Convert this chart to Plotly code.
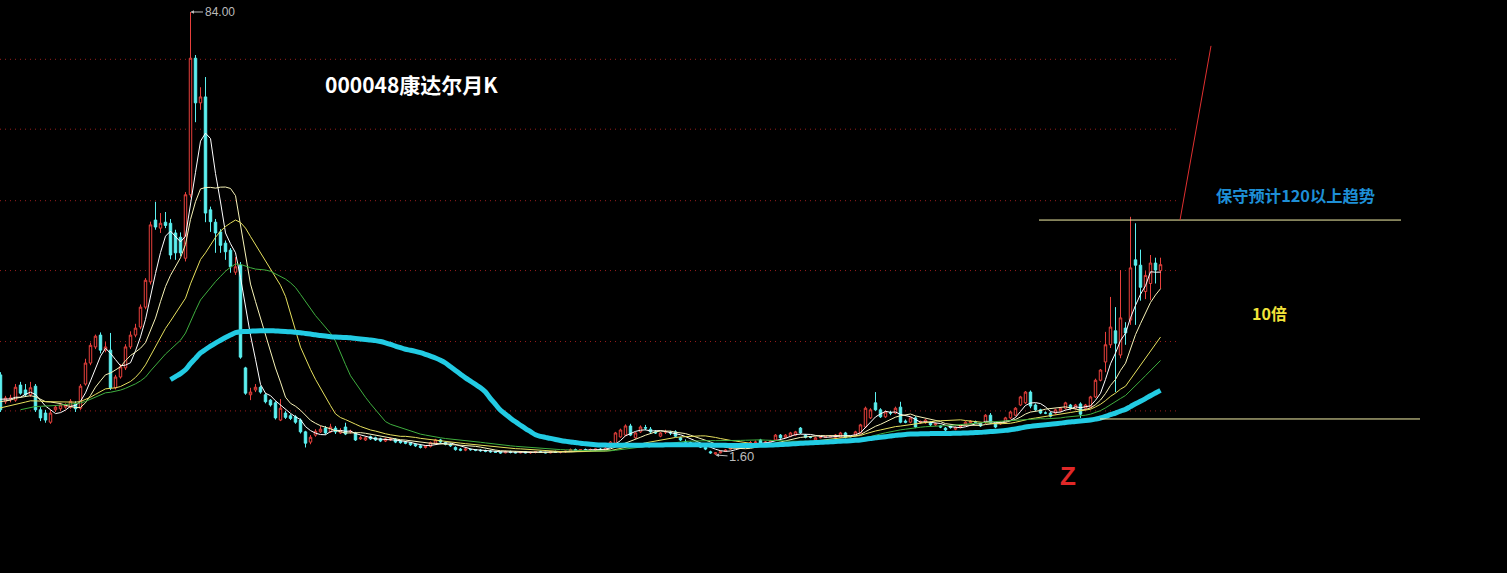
import plotly.graph_objects as go
import pandas as pd

# ---------------- data (monthly K, price units) ----------------
# earlier months (left of the visible window) - only used to warm up the moving averages
hidden_close = [6.0, 6.3, 6.8, 7.2, 7.5, 7.9, 8.3, 8.0, 8.6, 9.1, 8.8, 9.4, 9.9, 9.6, 10.2,
                10.0, 10.6, 11.0, 10.7, 11.3, 11.8, 12.2, 12.0, 12.6, 13.1]

open_ = [16.5, 11.5, 12.0, 11.8, 14.6, 13.7, 12.8, 14.4, 10.0, 9.4, 7.7, 10.0, 10.2, 10.5, 10.5, 11.1,
         10.3, 14.8, 18.7, 21.7, 23.9, 21.1, 21.1, 14.1, 16.1, 17.8, 21.7, 23.9, 25.4, 29.1, 33.8, 45.3,
         43.8, 44.9, 44.7, 42.9, 42.1, 38.2, 50.0, 75.4, 67.1, 68.2, 47.2, 44.9, 43.1, 41.0, 39.7, 35.6,
         36.9, 17.8, 12.8, 13.7, 14.2, 12.8, 11.8, 11.3, 8.1, 9.4, 8.9, 8.7, 8.1, 5.9, 4.0, 5.3,
         5.9, 6.6, 5.9, 6.6, 5.7, 6.8, 5.9, 5.7, 4.6, 4.4, 5.0, 4.8, 4.6, 4.2, 4.4, 4.5,
         4.2, 4.0, 3.9, 3.6, 3.3, 3.0, 3.2, 3.8, 4.4, 3.9, 3.6, 3.0, 2.7, 2.5, 2.6, 2.6,
         2.5, 2.4, 2.3, 2.2, 2.2, 2.0, 2.2, 2.1, 2.0, 2.2, 2.0, 2.1, 2.2, 2.1, 2.0, 2.2,
         2.1, 2.2, 2.3, 2.6, 2.5, 2.6, 2.6, 2.6, 2.7, 2.5, 3.1, 3.8, 4.95, 5.3, 7.0, 4.8,
         5.9, 6.7, 6.4, 5.9, 5.1, 5.9, 5.7, 5.9, 4.8, 4.1, 3.9, 3.7, 3.3, 3.0, 2.2, 1.8,
         2.0, 2.3, 2.7, 3.0, 3.2, 3.4, 3.7, 3.9, 4.4, 3.8, 4.0, 4.4, 5.3, 4.9, 5.1, 5.3,
         6.6, 5.3, 4.9, 4.4, 4.8, 4.9, 5.0, 4.9, 4.9, 5.7, 5.1, 5.3, 5.7, 6.8, 8.5, 11.3,
         10.0, 8.7, 9.4, 9.4, 10.5, 7.9, 7.7, 8.5, 7.6, 7.6, 7.7, 7.2, 7.0, 6.6, 6.9, 6.4,
         6.8, 7.2, 7.6, 7.8, 7.4, 7.6, 9.0, 7.4, 7.4, 7.7, 8.5, 9.0, 10.9, 11.3, 13.3, 10.9,
         10.0, 9.4, 9.4, 9.4, 9.8, 10.3, 10.9, 10.3, 11.1, 10.3, 10.5, 12.4, 15.5, 18.9, 22.1, 24.7,
         20.2, 25.2, 26.7, 37.9, 36.9, 32.0, 33.5, 37.3, 35.9]
high = [17.0, 12.6, 12.8, 14.8, 15.2, 14.8, 15.2, 14.8, 10.5, 10.0, 10.0, 10.9, 11.3, 11.2, 12.0, 11.6,
        14.8, 19.5, 22.5, 24.0, 24.4, 22.6, 24.3, 16.5, 18.5, 22.2, 24.6, 26.0, 29.6, 34.5, 45.0, 48.7,
        46.6, 46.8, 45.5, 43.5, 43.0, 50.5, 84.0, 76.0, 70.0, 71.9, 47.8, 45.5, 43.6, 41.5, 40.1, 38.4,
        37.5, 18.0, 14.1, 14.8, 14.5, 13.1, 12.0, 11.6, 12.0, 9.8, 9.2, 9.0, 8.4, 6.1, 5.3, 6.4,
        7.0, 7.0, 7.4, 7.0, 6.6, 7.6, 6.3, 5.9, 5.1, 5.0, 5.2, 5.0, 4.8, 4.8, 4.8, 4.7,
        4.4, 4.2, 4.0, 3.8, 3.5, 3.4, 4.1, 4.6, 4.6, 4.1, 3.8, 3.2, 2.9, 2.9, 2.8, 2.7,
        2.7, 2.6, 2.5, 2.4, 2.3, 2.4, 2.4, 2.3, 2.3, 2.3, 2.2, 2.3, 2.4, 2.2, 2.3, 2.4,
        2.3, 2.4, 2.8, 2.8, 2.7, 2.8, 2.8, 2.8, 2.9, 3.1, 4.2, 5.9, 6.5, 7.3, 7.4, 5.9,
        7.1, 7.2, 6.8, 6.2, 5.9, 6.3, 6.1, 6.2, 5.0, 4.5, 4.1, 3.9, 3.5, 3.2, 2.4, 2.1,
        2.4, 2.7, 3.2, 3.4, 3.6, 3.8, 4.2, 4.3, 4.6, 4.2, 4.4, 5.5, 5.5, 5.5, 5.9, 6.1,
        6.8, 5.5, 5.1, 5.0, 5.1, 5.2, 5.3, 5.5, 5.9, 5.9, 5.2, 6.1, 7.4, 10.6, 10.3, 13.3,
        10.3, 9.9, 9.8, 10.6, 11.5, 8.2, 8.7, 8.8, 8.0, 8.3, 7.9, 7.6, 7.2, 6.8, 7.1, 6.9,
        7.1, 7.9, 8.1, 8.0, 7.6, 9.2, 9.4, 7.6, 7.9, 8.7, 9.8, 10.5, 12.6, 13.5, 13.6, 11.2,
        10.2, 9.7, 9.6, 10.2, 10.5, 11.5, 11.1, 11.1, 11.4, 11.1, 12.6, 15.8, 17.6, 24.5, 31.0, 29.1,
        36.0, 26.3, 45.9, 44.7, 39.8, 35.8, 38.8, 38.3, 38.3]
low = [9.6, 11.1, 11.4, 11.5, 12.8, 12.4, 12.4, 9.6, 7.9, 7.6, 7.4, 9.6, 9.8, 10.2, 10.2, 9.6,
       10.0, 14.5, 18.3, 21.3, 20.5, 20.7, 13.7, 13.8, 15.8, 17.4, 21.3, 23.5, 25.0, 28.7, 33.3, 43.5,
       42.9, 43.8, 38.0, 37.9, 38.6, 37.6, 49.5, 63.5, 65.8, 44.9, 43.1, 39.2, 39.2, 37.9, 35.5, 35.1,
       19.5, 12.8, 11.8, 13.3, 13.0, 11.2, 10.6, 8.2, 7.9, 8.3, 8.1, 7.4, 5.6, 3.0, 3.6, 5.0,
       5.7, 5.4, 5.7, 5.5, 5.5, 5.3, 5.6, 4.2, 4.4, 4.2, 4.4, 4.2, 4.0, 4.0, 4.2, 3.8,
       3.7, 3.6, 3.3, 3.1, 2.8, 2.8, 3.0, 3.6, 3.8, 3.4, 3.1, 2.4, 2.3, 2.3, 2.4, 2.3,
       2.2, 2.1, 2.0, 2.0, 1.8, 1.9, 1.9, 1.9, 1.9, 1.9, 1.8, 1.9, 2.0, 1.9, 1.9, 2.0,
       1.9, 2.0, 2.2, 2.4, 2.3, 2.4, 2.4, 2.4, 2.5, 2.4, 3.0, 3.6, 4.8, 5.1, 5.1, 4.6,
       5.7, 6.2, 5.7, 5.5, 4.9, 5.5, 5.3, 4.9, 4.2, 3.7, 3.6, 3.4, 2.9, 2.5, 1.8, 1.6,
       1.9, 2.2, 2.6, 2.9, 3.0, 3.2, 3.5, 3.8, 3.6, 3.7, 3.9, 4.2, 4.6, 4.7, 4.9, 5.1,
       5.5, 4.7, 4.7, 4.2, 4.7, 4.8, 4.9, 4.8, 4.8, 4.7, 4.9, 5.2, 5.6, 6.6, 8.3, 9.8,
       8.5, 8.5, 9.0, 9.2, 7.5, 7.5, 7.5, 6.6, 7.4, 7.4, 7.0, 7.0, 6.6, 6.0, 6.5, 6.2,
       6.6, 7.0, 7.4, 7.5, 6.8, 7.4, 7.4, 6.6, 7.2, 7.5, 8.3, 8.8, 10.7, 11.1, 10.3, 9.8,
       9.2, 9.2, 8.6, 9.2, 9.6, 10.1, 10.1, 10.1, 8.5, 10.1, 10.3, 12.2, 15.3, 17.0, 21.5, 13.3,
       19.6, 22.1, 25.8, 25.8, 30.3, 30.6, 30.4, 33.5, 32.5]
close = [10.0, 12.2, 12.2, 14.2, 13.1, 12.8, 14.1, 10.0, 8.5, 8.1, 9.4, 10.5, 10.9, 10.9, 11.6, 10.2,
         14.4, 18.7, 22.0, 23.7, 21.1, 21.7, 14.1, 16.1, 18.0, 21.7, 23.9, 25.2, 29.1, 34.1, 44.4, 44.0,
         44.7, 44.3, 38.8, 39.2, 39.2, 50.0, 75.4, 67.1, 68.2, 46.6, 45.0, 42.9, 40.6, 39.4, 36.6, 36.6,
         19.8, 13.1, 13.3, 14.2, 13.3, 11.5, 10.9, 8.5, 10.3, 8.6, 8.4, 7.7, 5.9, 3.8, 4.9, 6.0,
         6.4, 5.7, 6.8, 5.9, 6.1, 5.5, 6.0, 4.4, 4.8, 4.8, 4.6, 4.4, 4.2, 4.6, 4.6, 4.0,
         3.9, 3.8, 3.5, 3.3, 3.0, 3.2, 3.9, 4.4, 4.0, 3.6, 3.3, 2.6, 2.5, 2.7, 2.6, 2.5,
         2.4, 2.3, 2.2, 2.1, 1.97, 2.2, 2.1, 2.0, 2.2, 2.0, 2.1, 2.2, 2.1, 2.0, 2.2, 2.1,
         2.2, 2.3, 2.6, 2.5, 2.6, 2.5, 2.6, 2.7, 2.6, 2.9, 4.0, 5.7, 6.25, 7.0, 5.3, 5.7,
         6.8, 6.6, 5.9, 5.7, 5.7, 5.9, 5.7, 5.1, 4.4, 4.0, 3.8, 3.6, 3.1, 2.7, 2.0, 2.0,
         2.2, 2.5, 3.0, 3.2, 3.4, 3.6, 3.9, 4.0, 3.8, 4.0, 4.2, 5.3, 4.8, 5.3, 5.7, 5.9,
         5.7, 4.9, 4.9, 4.8, 4.9, 5.0, 5.1, 5.3, 5.7, 4.9, 5.0, 5.9, 7.2, 10.3, 10.0, 10.0,
         8.7, 9.6, 9.4, 10.3, 7.7, 7.7, 8.5, 6.8, 7.8, 8.1, 7.2, 7.4, 6.8, 6.25, 6.7, 6.7,
         6.9, 7.7, 7.9, 7.7, 7.0, 9.0, 7.6, 6.8, 7.7, 8.5, 9.6, 10.3, 12.4, 13.3, 10.7, 10.0,
         9.4, 9.4, 8.8, 10.0, 10.3, 11.3, 10.3, 10.9, 9.2, 10.9, 12.4, 15.5, 17.4, 22.1, 25.4, 22.4,
         27.1, 24.3, 36.4, 36.9, 32.8, 35.0, 37.3, 36.0, 37.0]

ma_periods = [5, 10, 20, 30, 60]
ma_colors = ["#FFFFFF", "#F8F4B8", "#E6E05E", "#3FAE3F", "#22CBE3"]
ma_widths = [1, 1, 1, 1, 5]
ma_shapes = ["linear", "linear", "linear", "linear", "spline"]

grid_levels = [75.2, 62.2, 48.9, 35.9, 22.7, 9.8]
high_label, low_label = 84.00, 1.60
resist_level, support_level = 45.3, 8.3
trend_from, trend_to = 45.3, 77.7

RED = "#E8403C"
CYAN = "#5CF0F0"

# ---------------- figure ----------------
n_hidden = len(hidden_close)
x_vis = list(range(n_hidden, n_hidden + len(close)))
x_all = list(range(0, n_hidden + len(close)))
all_close = pd.Series(hidden_close + close, dtype=float)

fig = go.Figure()
fig.add_trace(go.Candlestick(
    x=x_vis, open=open_, high=high, low=low, close=close,
    increasing=dict(line=dict(color=RED, width=1), fillcolor="#000000"),
    decreasing=dict(line=dict(color=CYAN, width=1), fillcolor=CYAN),
    whiskerwidth=0, hoverinfo="skip", showlegend=False))

for p, c, w, s in zip(ma_periods, ma_colors, ma_widths, ma_shapes):
    ma = all_close.rolling(p).mean()
    line = dict(color=c, width=w, shape=s)
    if s == "spline":
        line["smoothing"] = 1.0
    fig.add_trace(go.Scatter(x=x_all, y=ma, mode="lines", line=line,
                             hoverinfo="skip", showlegend=False))

W, H = 1507, 573
px_per_bar = 5.0
x0 = n_hidden - 0.1
x1 = x0 + W / px_per_bar
y_top, y_bot = 86.23, -20.35

def xpix(px):
    return x0 + px / px_per_bar

shapes = []
for g in grid_levels:
    shapes.append(dict(type="line", xref="paper", yref="y", x0=0, x1=1180 / W, y0=g, y1=g,
                       line=dict(color="#9A1E1E", width=1, dash="1px,4px"), layer="below"))
shapes.append(dict(type="line", xref="x", yref="y", x0=xpix(1039), x1=xpix(1401),
                   y0=resist_level, y1=resist_level, line=dict(color="#F4F0A8", width=1)))
shapes.append(dict(type="line", xref="x", yref="y", x0=xpix(1100), x1=xpix(1420),
                   y0=support_level, y1=support_level, line=dict(color="#F4F0A8", width=1)))
shapes.append(dict(type="line", xref="x", yref="y", x0=xpix(1180), x1=xpix(1211),
                   y0=trend_from, y1=trend_to, line=dict(color="#E03030", width=1)))

hi_idx = x_vis[high.index(max(high))]
lo_idx = x_vis[low.index(min(low))]

def label(x, y, text, size, color, family="Noto Sans CJK SC"):
    return dict(x=x / W, y=1 - y / H, xref="paper", yref="paper", text=text,
                xanchor="center", yanchor="middle", showarrow=False,
                font=dict(family=family, size=size, color=color))

annotations = [
    dict(x=hi_idx, y=high_label, xref="x", yref="y", text="%.2f" % high_label,
         showarrow=True, ax=29, ay=0, arrowhead=2, arrowsize=0.7, arrowwidth=1,
         arrowcolor="#BBBBBB", font=dict(family="Arial, Liberation Sans", size=12, color="#BBBBBB")),
    dict(x=lo_idx, y=low_label, xref="x", yref="y", text="%.2f" % low_label,
         showarrow=True, ax=26, ay=2, arrowhead=2, arrowsize=0.7, arrowwidth=1,
         arrowcolor="#BBBBBB", font=dict(family="Arial, Liberation Sans", size=13, color="#BBBBBB")),
    label(412, 84, "<b>000048康达尔月K</b>", 21, "#FFFFFF"),
    label(1295, 195, "<b>保守预计120以上趋势</b>", 16.3, "#1E8FD6"),
    label(1269, 313, "<b>10倍</b>", 16, "#F2E33A"),
    label(1068, 476, "<b>Z</b>", 26, "#E02828", "Liberation Sans, Arial"),
]

fig.update_layout(
    width=W, height=H,
    margin=dict(l=0, r=0, t=0, b=0),
    paper_bgcolor="#000000", plot_bgcolor="#000000",
    shapes=shapes, annotations=annotations,
    showlegend=False, hovermode=False,
    xaxis=dict(range=[x0, x1], visible=False, rangeslider=dict(visible=False), fixedrange=True),
    yaxis=dict(range=[y_bot, y_top], visible=False, fixedrange=True),
)

fig.write_html("out.html", config={"displayModeBar": False},
               post_script="document.body.style.margin='0';document.body.style.background='#000';")
